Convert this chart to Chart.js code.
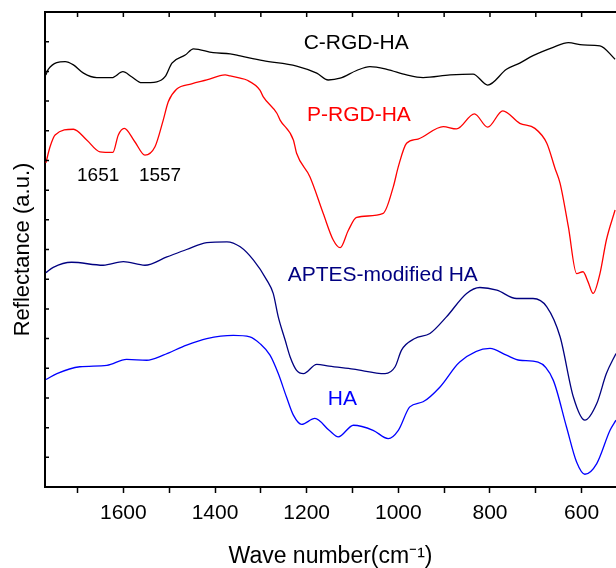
<!DOCTYPE html>
<html>
<head>
<meta charset="utf-8">
<script src="https://cdn.jsdelivr.net/npm/chart.js@4.4.0/dist/chart.umd.min.js"></script>
<style>
  html, body { margin: 0; padding: 0; background: #fff; overflow: hidden; }
  canvas { display: block; }
</style>
</head>
<body>
<canvas id="chart" width="616" height="568"></canvas>
<script>
// wave number (cm-1) / reflectance (a.u., offset per trace)
const cRgdWave = [1769,1764,1727,1709,1687,1658,1625,1601,1582,1560,1527,1509,1494,1465,1447,1404,1367,1345,1295,1222,1178,1153,1127,1091,1062,1025,982,946,887,837,805,764,735,706,662,629,597,560,527];
const cRgdVal = [13.88,14.07,14.33,14.22,13.94,13.79,13.79,13.99,13.82,13.62,13.65,13.82,14.28,14.55,14.76,14.63,14.59,14.52,14.36,14.18,13.94,13.71,13.77,14.03,14.16,14.07,13.88,13.79,13.88,13.91,13.54,14.07,14.28,14.53,14.81,14.97,14.89,14.86,14.41];

const pRgdWave = [1769,1760,1749,1709,1680,1651,1623,1611,1598,1575,1553,1531,1513,1502,1484,1451,1418,1378,1367,1345,1331,1302,1295,1265,1258,1229,1222,1193,1164,1142,1127,1109,1091,1033,1011,1000,982,957,902,873,834,805,772,735,702,676,658,647,629,611,597,586,575,560,546,527];
const pRgdVal = [10.92,11.46,11.86,12.05,11.69,11.29,11.27,11.86,12.08,11.63,11.18,11.46,12.36,12.98,13.40,13.58,13.71,13.88,13.85,13.77,13.71,13.37,13.15,12.59,12.36,11.69,11.24,10.45,9.22,8.32,8.06,8.65,9.08,9.22,10.11,10.79,11.58,11.72,12.14,12.06,12.57,12.12,12.67,12.25,12.08,11.58,10.73,10.23,8.77,7.19,7.25,6.91,6.52,7.19,8.32,9.33];

const aptesWave = [1769,1753,1713,1644,1600,1553,1505,1462,1418,1374,1345,1316,1287,1273,1262,1247,1236,1222,1207,1178,1151,1098,1029,1007,993,964,931,895,851,822,785,742,706,676,647,618,593,567,546,525];
const aptesVal = [7.22,7.40,7.57,7.47,7.59,7.47,7.75,8.00,8.23,8.26,8.09,7.64,6.97,6.52,5.73,4.95,4.38,3.93,3.82,4.13,4.07,3.97,3.82,4.05,4.61,5.00,5.17,5.73,6.52,6.72,6.63,6.35,6.35,6.07,5.06,3.03,2.25,2.81,3.82,4.50];

const haWave = [1769,1745,1695,1636,1593,1549,1513,1462,1418,1360,1324,1302,1280,1262,1244,1229,1211,1182,1151,1131,1098,1055,1022,1000,975,946,909,866,800,764,735,695,662,633,611,593,567,538,525];
const haVal = [3.62,3.82,4.05,4.10,4.30,4.27,4.44,4.78,5.00,5.11,5.06,4.83,4.44,3.82,3.03,2.42,2.11,2.31,1.91,1.69,2.08,1.91,1.63,1.91,2.70,2.87,3.37,4.21,4.67,4.44,4.27,4.21,3.60,2.02,0.84,0.43,0.79,1.91,2.25];

const seriesNames = ['C-RGD-HA', 'P-RGD-HA', 'APTES-modified HA', 'HA'];
const seriesColors = ['#000000', '#ff0000', '#000080', '#0000ff'];
const xTickLabels = [1600, 1400, 1200, 1000, 800, 600];
const peakLabels = ['1651', '1557'];

const FONT = '"Liberation Sans", Arial, Helvetica, sans-serif';

const toPoints = (w, v) => w.map((x, i) => ({ x: x, y: v[i] }));
const traces = [
  toPoints(cRgdWave, cRgdVal),
  toPoints(pRgdWave, pRgdVal),
  toPoints(aptesWave, aptesVal),
  toPoints(haWave, haVal)
];

// text placed in data coordinates
const notes = [
  { text: seriesNames[0], wave: 1092, val: 14.96, color: seriesColors[0], size: 21 },
  { text: seriesNames[1], wave: 1086, val: 12.52, color: seriesColors[1], size: 21 },
  { text: seriesNames[2], wave: 1034, val: 7.14, color: seriesColors[2], size: 21 },
  { text: seriesNames[3], wave: 1122, val: 2.97, color: seriesColors[3], size: 21 },
  { text: peakLabels[0], wave: 1655, val: 10.48, color: '#000', size: 19 },
  { text: peakLabels[1], wave: 1520, val: 10.48, color: '#000', size: 19 }
];

const framePlugin = {
  id: 'frame',
  afterDraw(chart) {
    const { ctx, chartArea: a, scales: { x, y } } = chart;
    ctx.save();
    ctx.strokeStyle = '#000';
    ctx.lineWidth = 2;
    ctx.beginPath();
    ctx.moveTo(a.left - 1, a.top);
    ctx.lineTo(a.right, a.top);
    ctx.stroke();

    // inward ticks on top and left
    ctx.lineWidth = 1.5;
    ctx.beginPath();
    x.ticks.forEach(t => {
      const px = x.getPixelForValue(t.value);
      ctx.moveTo(px, a.top);
      ctx.lineTo(px, a.top + 5);
    });
    y.ticks.forEach(t => {
      const py = y.getPixelForValue(t.value);
      ctx.moveTo(a.left, py);
      ctx.lineTo(a.left + 4, py);
    });
    ctx.stroke();

    ctx.textAlign = 'center';
    ctx.textBaseline = 'middle';
    notes.forEach(n => {
      ctx.font = n.size + 'px ' + FONT;
      ctx.fillStyle = n.color;
      ctx.fillText(n.text, x.getPixelForValue(n.wave), y.getPixelForValue(n.val));
    });
    ctx.restore();
  }
};

new Chart(document.getElementById('chart'), {
  type: 'line',
  data: {
    datasets: traces.map((pts, i) => ({
      label: seriesNames[i],
      data: pts,
      borderColor: seriesColors[i],
      backgroundColor: seriesColors[i],
      borderWidth: 1.3,
      pointRadius: 0,
      cubicInterpolationMode: 'monotone',
      fill: false
    }))
  },
  options: {
    responsive: false,
    animation: false,
    devicePixelRatio: 1,
    layout: { padding: { top: 12, right: 0, left: 0, bottom: 0 } },
    plugins: { legend: { display: false }, tooltip: { enabled: false } },
    scales: {
      x: {
        type: 'linear',
        reverse: true,
        min: 525,
        max: 1771,
        afterFit: s => { s.height = 81; },
        border: { display: true, color: '#000', width: 2 },
        grid: { display: true, drawOnChartArea: false, drawTicks: true, tickLength: 6, tickWidth: 1.5, tickColor: '#000' },
        ticks: {
          stepSize: 100,
          includeBounds: false,
          autoSkip: false,
          maxRotation: 0,
          padding: 8,
          color: '#000',
          font: { family: FONT, size: 21 },
          callback: v => xTickLabels.includes(v) ? String(v) : ''
        },
        title: {
          display: true,
          text: 'Wave number(cm⁻¹)',
          color: '#000',
          font: { family: FONT, size: 23, lineHeight: 1 },
          padding: { top: 0, bottom: 0 }
        }
      },
      y: {
        min: 0,
        max: 16,
        afterFit: s => { s.width = 45; },
        border: { display: true, color: '#000', width: 2 },
        grid: { display: false },
        ticks: { display: false, stepSize: 1 },
        title: {
          display: true,
          text: 'Reflectance (a.u.)',
          color: '#000',
          font: { family: FONT, size: 22, lineHeight: 1 },
          padding: { top: 12, bottom: 0 }
        }
      }
    }
  },
  plugins: [framePlugin]
});
</script>
</body>
</html>
